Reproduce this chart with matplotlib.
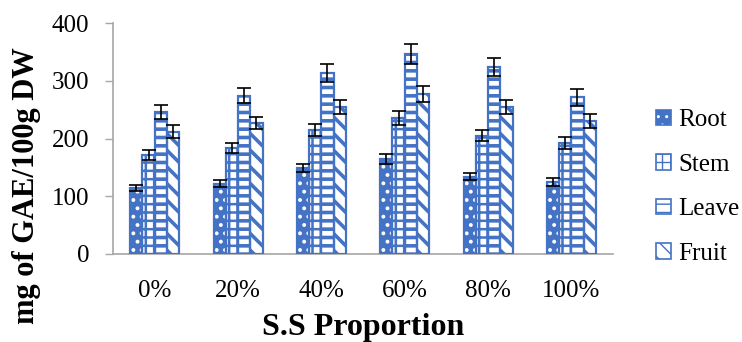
import matplotlib
matplotlib.use("Agg")
import matplotlib.pyplot as plt
from matplotlib.patches import Patch
import numpy as np

categories = ["0%", "20%", "40%", "60%", "80%", "100%"]
series = ["Root", "Stem", "Leave", "Fruit"]
root = [114, 122, 149, 164, 134, 124]
stem = [171, 184, 214, 236, 205, 192]
leave = [246, 274, 313, 346, 324, 271]
fruit = [212, 227, 254, 277, 254, 231]
root_err = [5, 6.5, 7.5, 8.5, 5.5, 7]
stem_err = [8.5, 9, 10.5, 12, 10, 10]
leave_err = [12, 13, 15.5, 17, 15.5, 14]
fruit_err = [11, 11, 12, 14, 12, 12]
yticks = [0, 100, 200, 300, 400]

BLUE = "#4472C4"
plt.rcParams["font.family"] = ["Liberation Serif", "DejaVu Serif"]

fig = plt.figure(figsize=(7.42, 3.42), dpi=100)
W, H = 742, 342
ax = fig.add_axes([113 / W, 1 - 254 / H, 500 / W, 231 / H])

x = np.arange(len(categories))
bw = 0.147
offsets = (np.arange(4) - 1.5) * bw

# (face, hatch color, hatch pattern, hatch linewidth)
styles = [
    (BLUE, "white", "..", 1.6),
    ("white", BLUE, "++", 1.8),
    ("white", BLUE, "--", 2.6),
    ("white", BLUE, "\\\\", 2.6),
]
values = [root, stem, leave, fruit]
errors = [root_err, stem_err, leave_err, fruit_err]

handles = []
for i, (vals, errs, (face, hc, hatch, hlw)) in enumerate(zip(values, errors, styles)):
    pos = x + offsets[i]
    with plt.rc_context({"hatch.linewidth": hlw}):
        ax.bar(pos, vals, bw, color=face, edgecolor=hc, hatch=hatch,
               linewidth=0, zorder=2)
    ax.bar(pos, vals, bw, fill=False, edgecolor=BLUE, linewidth=1.6, zorder=3)
    ax.errorbar(pos, vals, yerr=errs, fmt="none", ecolor="black",
                elinewidth=1.2, capsize=5, capthick=1.2, zorder=4)
    with plt.rc_context({"hatch.linewidth": hlw * 0.6}):
        fill_patch = Patch(facecolor=face, edgecolor=hc, hatch=hatch,
                           linewidth=0)
    outline = Patch(fill=False, edgecolor=BLUE, linewidth=1.2)
    handles.append((fill_patch, outline))

ax.set_xlim(-0.5, len(categories) - 0.5)
ax.set_ylim(0, 400)
ax.set_yticks(yticks)
ax.set_xticks(x)
ax.set_xticklabels(categories)
ax.tick_params(axis="x", length=0, pad=19, labelsize=18)
ax.tick_params(axis="y", length=6, width=1, color="#a6a6a6", pad=11,
               labelsize=18, direction="out")
for s in ["top", "right"]:
    ax.spines[s].set_visible(False)
for s in ["left", "bottom"]:
    ax.spines[s].set_color("#a6a6a6")
    ax.spines[s].set_linewidth(1.2)

fig.text(363 / W, 1 - 327 / H, "S.S Proportion", ha="center", va="center",
         fontsize=23, fontweight="bold")
fig.text(27 / W, 1 - 186 / H, "mg of GAE/100g DW", ha="center", va="center",
         rotation=90, fontsize=22, fontweight="bold")

fig.legend(handles, series, loc="center left",
           bbox_to_anchor=(656 / W, 1 - 187 / H), frameon=False,
           borderpad=0, borderaxespad=0,
           fontsize=18, handlelength=0.6, handleheight=0.6,
           handletextpad=0.3, labelspacing=0.9)

fig.savefig("out.png", dpi=100)
